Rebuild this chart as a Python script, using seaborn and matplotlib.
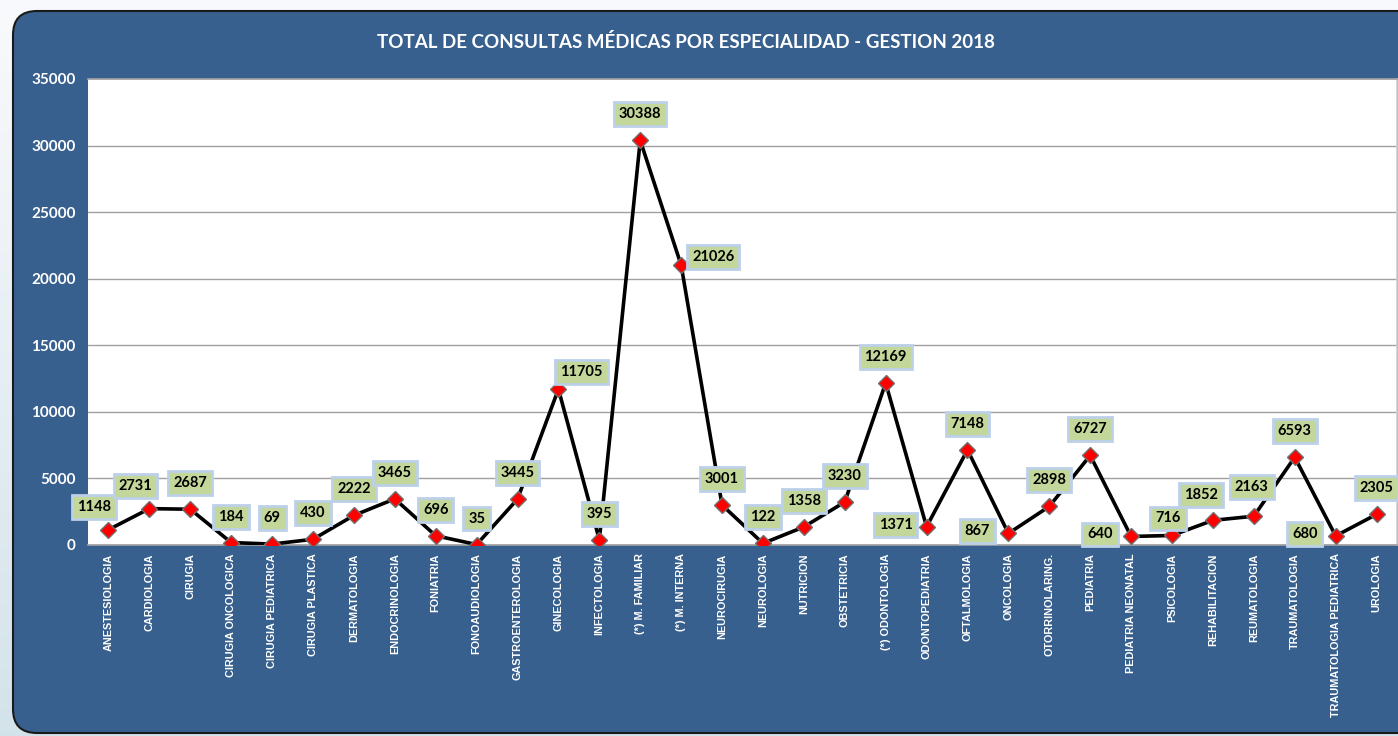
import numpy as np
import pandas as pd
import matplotlib.pyplot as plt
from matplotlib.patches import FancyBboxPatch
import seaborn as sns

especialidades = ['ANESTESIOLOGIA', 'CARDIOLOGIA', 'CIRUGIA', 'CIRUGIA ONCOLOGICA',
                  'CIRUGIA PEDIATRICA', 'CIRUGIA PLASTICA', 'DERMATOLOGIA', 'ENDOCRINOLOGIA',
                  'FONIATRIA', 'FONOAUDIOLOGIA', 'GASTROENTEROLOGIA', 'GINECOLOGIA',
                  'INFECTOLOGIA', '(*) M. FAMILIAR', '(*) M. INTERNA', 'NEUROCIRUGIA',
                  'NEUROLOGIA', 'NUTRICION', 'OBSTETRICIA', '(*) ODONTOLOGIA',
                  'ODONTOPEDIATRIA', 'OFTALMOLOGIA', 'ONCOLOGIA', 'OTORRINOLARING.',
                  'PEDIATRIA', 'PEDIATRIA NEONATAL', 'PSICOLOGIA', 'REHABILITACION',
                  'REUMATOLOGIA', 'TRAUMATOLOGIA', 'TRAUMATOLOGIA PEDIATRICA', 'UROLOGIA']
consultas = [1148, 2731, 2687, 184, 69, 430, 2222, 3465, 696, 35, 3445, 11705,
             395, 30388, 21026, 3001, 122, 1358, 3230, 12169, 1371, 7148, 867, 2898,
             6727, 640, 716, 1852, 2163, 6593, 680, 2305]
y_ticks = [0, 5000, 10000, 15000, 20000, 25000, 30000, 35000]
titulo = 'TOTAL DE CONSULTAS MÉDICAS POR ESPECIALIDAD - GESTION 2018'

# donde va cada etiqueta respecto al punto
pos_etiqueta = ['ul', 'ul', 'up', 'up', 'up', 'up', 'up', 'up', 'up', 'up', 'up', 'ur',
                'up', 'up', 'r', 'up', 'up', 'up', 'up', 'up', 'l', 'up', 'l', 'up',
                'up', 'l', 'low', 'ul2', 'hi', 'up', 'l', 'up']
desplaz = {'up': (0, 26), 'ul': (-14, 23), 'ur': (23, 17), 'l': (-31, 2), 'r': (32, 8),
           'low': (-4, 17), 'hi': (-2, 29), 'ul2': (-12, 25)}

df = pd.DataFrame({'esp': especialidades, 'total': consultas})

sns.set_theme(style='white')
plt.rcParams['font.family'] = ['Lato', 'DejaVu Sans']

W, H = 1398, 736
fig = plt.figure(figsize=(W / 100, H / 100), dpi=100)

# fondo con degradado y panel azul redondeado
bg = fig.add_axes([0, 0, 1, 1], zorder=-10)
grad = np.linspace(0, 1, 256).reshape(-1, 1)
c_top = np.array([0.975, 0.98, 0.99])
c_bot = np.array([0.83, 0.89, 0.92])
img = c_top + grad[..., None] * (c_bot - c_top)
bg.imshow(img, extent=[0, W, H, 0], aspect='auto')
bg.add_patch(FancyBboxPatch((13, 11), W + 40, H - 14,
                            boxstyle='round,pad=0,rounding_size=24',
                            fc='#38608f', ec='#1a1a1a', lw=1.5))
bg.set_xlim(0, W)
bg.set_ylim(H, 0)
bg.axis('off')

ax = fig.add_axes([88 / W, (H - 545) / H, (1397 - 88) / W, (545 - 79) / H])
ax.set_facecolor('white')

sns.pointplot(data=df, x='esp', y='total', color='black', markers='D',
              linestyles='-', errorbar=None, ax=ax, markersize=8.5,
              markerfacecolor='red', markeredgecolor='#707070',
              markeredgewidth=1, linewidth=2.6, zorder=3)
for ln in ax.lines:
    ln.set_markerfacecolor('red')
    ln.set_markeredgecolor('#707070')
    ln.set_markersize(8.5)
    ln.set_linewidth(2.6)

ax.set_xlim(-0.5, len(especialidades) - 0.5)
ax.set_ylim(0, 35000)
ax.set_yticks(y_ticks)
ax.set_yticklabels([str(t) for t in y_ticks], color='white', fontweight='bold',
                   fontsize=11)
for t in y_ticks[1:-1]:
    ax.axhline(t, color='#a0a0a0', lw=1, zorder=1)
ax.tick_params(axis='y', length=0, pad=9)
ax.tick_params(axis='x', length=0, pad=6)
ax.set_xticks(range(len(especialidades)))
ax.set_xticklabels(especialidades, rotation=90, color='white', fontweight='bold',
                   fontsize=7.8, family=['Liberation Sans', 'DejaVu Sans'])
ax.set_xlabel('')
ax.set_ylabel('')
for s in ['top', 'bottom']:
    ax.spines[s].set_color('#a0a0a0')
ax.spines['right'].set_color('#d0d0d0')
ax.spines['left'].set_visible(False)

for i, (v, p) in enumerate(zip(consultas, pos_etiqueta)):
    dx, dy = desplaz[p]
    ax.annotate(str(v), (i, v), xytext=(dx, dy), textcoords='offset pixels',
                ha='center', va='center', fontsize=10.5, fontweight='bold',
                color='black', zorder=5,
                bbox=dict(boxstyle='square,pad=0.34', fc='#c4d79b', ec='#bcd0e8', lw=2))

fig.text(686 / W, 1 - 42 / H, titulo, ha='center', va='center', color='white',
         fontsize=13.5, fontweight='bold')

fig.savefig('out.png', dpi=100)
